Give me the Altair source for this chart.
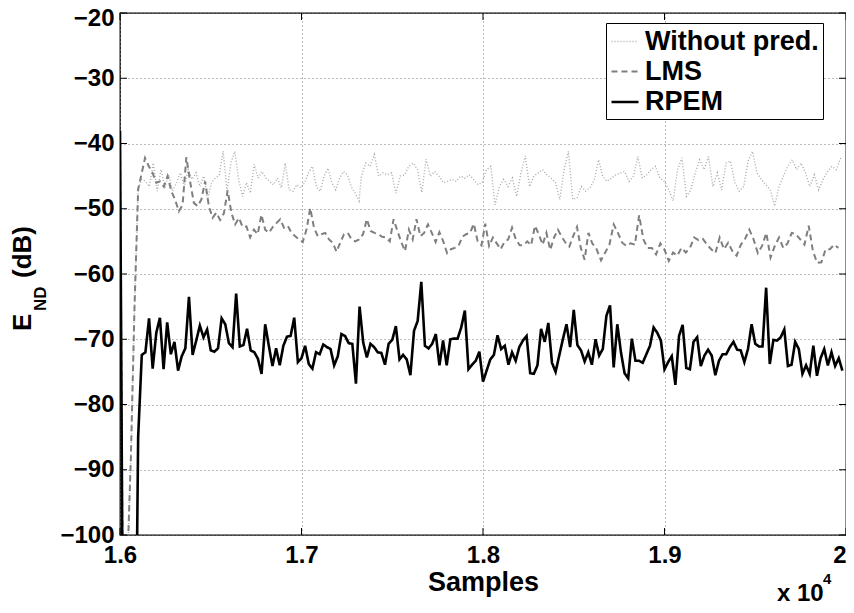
import altair as alt
import numpy as np
import pandas as pd

SERIES = ["Without pred.", "LMS", "RPEM"]
COLORS = ["#aaaaaa", "#7f7f7f", "#000000"]
DASHES = [[1, 2], [6, 4], [1, 0]]
WIDTHS = [1.4, 2.6, 2.4]

X_TICKS = [16000, 17000, 18000, 19000, 20000]
Y_TICKS = [-100, -90, -80, -70, -60, -50, -40, -30, -20]

# ---------- RPEM: one value every 20 samples, starting at 16000 ----------
rpem_start, rpem_step = 16000, 20
rpem_db = [
    -38, -140, -140, -140, -140, -85,
    -72.4, -72.0, -66.8, -74.5, -69.0, -66.7, -74.6, -67.4, -72.3, -70.4,
    -74.8, -72.6, -71.4, -63.5, -72.4, -70.2, -67.9, -69.7, -68.5, -71.7,
    -71.9, -71.4, -66.8, -67.7, -70.6, -71.2, -63.0, -71.1, -70.9, -68.4,
    -71.7, -72.0, -73.0, -75.3, -67.7, -71.0, -74.1, -71.4, -74.0, -71.0,
    -69.6, -69.5, -66.7, -73.5, -72.9, -71.0, -73.8, -74.5, -72.0, -72.3,
    -70.8, -71.2, -71.5, -74.0, -72.6, -69.2, -69.5, -70.6, -70.7, -76.8, -65.0,
    -70.5, -72.8, -70.7, -71.2, -72.0, -72.1, -73.9, -70.7, -70.1, -68.0,
    -73.1, -72.4, -73.1, -75.5, -68.7, -67.2, -61.2, -71.0, -71.4, -70.7,
    -69.2, -74.0, -70.2, -74.0, -70.0, -69.9, -69.9, -68.2, -65.6, -74.6,
    -73.9, -73.3, -71.9, -76.5, -74.8, -73.1, -72.4, -69.4, -71.5, -71.0,
    -73.9, -72.0, -73.3, -71.2, -70.2, -69.5, -75.2, -75.3, -74.0, -68.4,
    -70.4, -67.5, -73.6, -75.0, -72.5, -70.0, -67.7, -71.2, -65.5, -70.9,
    -71.7, -73.4, -72.0, -73.9, -70.0, -72.5,
    -71.5, -66.4, -64.8, -74.3, -67.7, -72.0, -75.2, -76.0, -69.9, -73.3,
    -73.3, -73.6, -72.3, -71.0, -68.2, -69.0, -70.2, -74.6, -73.5, -72.6,
    -77.0, -69.5, -67.8, -74.4, -74.6, -70.4, -69.7, -74.1, -72.5, -71.6,
    -72.5, -75.5, -73.3, -72.3, -72.3, -71.2, -70.4, -71.6, -71.7, -73.5,
    -71.5, -67.7, -70.7, -71.1, -71.1, -62.1, -73.8, -70.1, -70.2, -69.7,
    -68.5, -74.1, -73.9, -70.4, -71.5, -75.3, -74.0, -75.3, -71.0, -75.6,
    -72.9, -71.5, -74.0, -72.0, -74.1, -72.9, -74.8,
]

# ---------- LMS ----------
lms_head_db = [-38, -130, -105, -88, -65, -47, -44.5]   # 16000..16120, step 20
lms_seg1_range = (16138, 17317)
lms_seg1_db = [
    -42.2, -43.5, -44.5, -46.0, -45.8, -46.6, -45.0, -47.3, -48.6, -50.4,
    -49.4, -42.1, -45.8, -49.1, -49.6, -48.6, -45.8, -49.6, -51.4, -50.6,
    -51.7, -50.7, -47.2, -50.6, -52.4, -51.4, -52.8, -52.7, -54.4, -53.2,
    -53.9, -50.9, -53.2, -53.7, -52.8, -52.2, -51.6, -52.9, -52.6, -53.7,
    -54.2, -54.7, -55.1, -53.2, -49.9, -52.9, -54.2, -53.9, -53.7, -54.7,
    -55.2, -56.6, -55.2, -53.9, -53.7, -54.7, -55.0, -54.7,
]
lms_seg2_range = (17339, 18623)
lms_seg2_db = [
    -53.9, -51.6, -53.4, -53.7, -53.9, -54.3, -54.4, -55.0, -51.6, -53.4,
    -55.1, -56.5, -53.2, -54.7, -51.6, -54.2, -53.7, -52.4, -53.7, -55.1,
    -53.6, -55.0, -56.8, -56.2, -56.0, -55.7, -54.3, -53.9, -53.7, -52.3,
    -55.0, -55.6, -52.3, -55.7, -54.4, -55.3, -56.2, -55.1, -54.7, -52.9,
    -54.7, -55.6, -55.6, -55.0, -55.6, -52.6, -53.9, -55.5, -53.7, -56.3,
    -54.4, -53.2, -54.3, -55.2, -55.8, -54.2, -52.8, -56.0, -57.8, -53.7,
    -55.3, -56.0,
]
lms_seg3_range = (18650, 19958)
lms_seg3_db = [
    -57.9, -56.7, -55.5, -52.4, -53.7, -55.2, -55.7, -55.3, -55.5, -51.0,
    -54.7, -56.0, -56.0, -57.0, -55.3, -56.3, -58.0, -56.7, -57.2, -56.0,
    -56.7, -56.0, -54.4, -54.8, -54.6, -55.5, -56.2, -56.8, -54.4, -56.2,
    -55.2, -56.5, -57.2, -55.5, -54.6, -53.2, -54.7, -56.8, -55.7, -53.7,
    -57.5, -55.7, -54.4, -56.0, -55.3, -53.7, -53.9, -54.7, -55.5, -52.6,
    -56.5, -58.3, -58.2, -56.2, -56.2, -55.5, -56.0,
]

# ---------- Without prediction ----------
wp_head_db = [-38, -130, -105, -88, -65, -47]          # 16000..16100, step 20
wp_seg1_range = (16119, 17317)
wp_seg1_db = [
    -45.5, -45.8, -46.6, -43.0, -47.3, -44.0, -46.6, -44.8, -47.3, -46.0,
    -44.5, -46.6, -44.0, -45.5, -44.5, -46.6, -45.0, -48.6, -46.0, -45.3,
    -44.8, -41.2, -47.3, -43.0, -41.2, -45.5, -48.1, -46.0, -47.6, -43.2,
    -45.3, -44.3, -45.3, -45.8, -46.3, -45.3, -46.8, -43.0, -47.1, -47.3,
    -46.3, -46.8, -46.0, -44.5, -43.5, -46.6, -47.3, -45.0, -43.8, -46.0,
    -47.1, -45.3, -44.3, -44.8, -46.6, -47.6, -48.8,
]
wp_seg2_range = (17330, 18637)
wp_seg2_db = [
    -45.0, -43.0, -43.5, -41.7, -45.0, -44.5, -44.8, -44.5, -47.6, -45.0,
    -44.8, -43.5, -43.0, -44.0, -47.5, -42.4, -45.0, -44.3, -45.0, -46.0,
    -45.8, -45.5, -45.8, -45.0, -45.3, -44.8, -45.5, -46.3, -46.0, -44.0,
    -43.5, -49.4, -46.6, -45.5, -46.6, -45.3, -48.1, -44.5, -41.9, -46.6,
    -45.0, -44.5, -44.0, -44.8, -45.3, -46.0, -48.6, -44.0, -41.2, -48.6,
    -48.3, -46.6, -47.3, -46.8, -45.5, -42.5,
]
wp_seg3_range = (18659, 19971)
wp_seg3_db = [
    -45.0, -45.8, -45.3, -44.8, -44.5, -44.3, -45.8, -45.0, -42.0, -45.3,
    -44.8, -44.0, -43.5, -45.3, -45.8, -47.1, -48.8, -44.0, -42.2, -48.1,
    -47.1, -44.5, -42.5, -44.0, -42.0, -46.6, -44.5, -47.1, -43.0, -42.7,
    -46.0, -47.3, -46.6, -42.7, -41.2, -44.5, -45.5, -46.3, -47.1, -49.6,
    -46.6, -45.0, -43.5, -42.5, -44.0, -43.0, -44.5, -46.6, -44.8, -47.1,
    -45.5, -44.3, -43.5, -44.0, -42.2,
]


def seg(rng, vals):
    return list(np.linspace(rng[0], rng[1], len(vals))), list(vals)


def build(name, head, segs):
    xs = [16000 + 20 * i for i in range(len(head))]
    ys = list(head)
    for rng, vals in segs:
        sx, sy = seg(rng, vals)
        xs += sx
        ys += sy
    return pd.DataFrame({"sample": xs, "value": ys, "series": name})


rpem_df = pd.DataFrame({
    "sample": [rpem_start + rpem_step * i for i in range(len(rpem_db))],
    "value": rpem_db,
    "series": "RPEM",
})
lms_df = build("LMS", lms_head_db, [(lms_seg1_range, lms_seg1_db),
                                    (lms_seg2_range, lms_seg2_db),
                                    (lms_seg3_range, lms_seg3_db)])
wp_df = build("Without pred.", wp_head_db, [(wp_seg1_range, wp_seg1_db),
                                            (wp_seg2_range, wp_seg2_db),
                                            (wp_seg3_range, wp_seg3_db)])
data = pd.concat([wp_df, lms_df, rpem_df], ignore_index=True)

W, H = 726, 522
FONT = "Liberation Sans"

xscale = alt.Scale(domain=[16000, 20000], nice=False, zero=False)
yscale = alt.Scale(domain=[-100, -20], nice=False, zero=False)

lines = alt.Chart(data).mark_line(clip=True, strokeCap="butt", strokeJoin="miter").encode(
    x=alt.X("sample:Q", scale=xscale,
            axis=alt.Axis(values=X_TICKS, title="Samples", labelFlush=False,
                          labelAlign={"condition": {"test": "datum.value >= 20000",
                                                    "value": "right"},
                                      "value": "center"},
                          labelExpr="format(datum.value / 10000, '.1~f')")),
    y=alt.Y("value:Q", scale=yscale,
            axis=alt.Axis(values=Y_TICKS, title=None, labelFlush=False,
                          labelOffset={"condition": {"test": "datum.value >= -20",
                                                     "value": 5},
                                       "value": 0})),
    color=alt.Color("series:N", scale=alt.Scale(domain=SERIES, range=COLORS),
                    legend=alt.Legend(title=None)),
    strokeDash=alt.StrokeDash("series:N", scale=alt.Scale(domain=SERIES, range=DASHES),
                              legend=alt.Legend(title=None)),
    strokeWidth=alt.StrokeWidth("series:N", scale=alt.Scale(domain=SERIES, range=WIDTHS),
                                legend=alt.Legend(title=None)),
    order=alt.Order("sample:Q"),
)

xt = pd.DataFrame({"t": X_TICKS})
yt = pd.DataFrame({"t": Y_TICKS})
tick_bottom = alt.Chart(xt).mark_rule(color="black", strokeWidth=1).encode(
    x=alt.X("t:Q", scale=xscale), y=alt.value(H), y2=alt.value(H - 7))
tick_top = alt.Chart(xt).mark_rule(color="black", strokeWidth=1).encode(
    x=alt.X("t:Q", scale=xscale), y=alt.value(0), y2=alt.value(7))
tick_left = alt.Chart(yt).mark_rule(color="black", strokeWidth=1).encode(
    y=alt.Y("t:Q", scale=yscale), x=alt.value(0), x2=alt.value(7))
tick_right = alt.Chart(yt).mark_rule(color="black", strokeWidth=1).encode(
    y=alt.Y("t:Q", scale=yscale), x=alt.value(W), x2=alt.value(W - 7))

txt = dict(font=FONT, fontWeight="bold", color="black")
ytitle_e = alt.Chart(pd.DataFrame({"s": ["E"]})).mark_text(
    angle=270, align="left", baseline="alphabetic", fontSize=26, **txt).encode(
    text="s:N", x=alt.value(-89), y=alt.value(318))
ytitle_nd = alt.Chart(pd.DataFrame({"s": ["ND"]})).mark_text(
    angle=270, align="left", baseline="alphabetic", fontSize=17, **txt).encode(
    text="s:N", x=alt.value(-74), y=alt.value(298))
ytitle_db = alt.Chart(pd.DataFrame({"s": ["(dB)"]})).mark_text(
    angle=270, align="left", baseline="alphabetic", fontSize=26, **txt).encode(
    text="s:N", x=alt.value(-89), y=alt.value(265))

xexp = alt.Chart(pd.DataFrame({"s": ["x 10"]})).mark_text(
    align="left", baseline="alphabetic", fontSize=24, **txt).encode(
    text="s:N", x=alt.value(657), y=alt.value(588))
xexp4 = alt.Chart(pd.DataFrame({"s": ["4"]})).mark_text(
    align="left", baseline="alphabetic", fontSize=15, **txt).encode(
    text="s:N", x=alt.value(703), y=alt.value(571))

chart = alt.layer(
    lines, tick_bottom, tick_top, tick_left, tick_right,
    ytitle_e, ytitle_nd, ytitle_db, xexp, xexp4,
).properties(
    width=W, height=H,
    autosize=alt.AutoSizeParams(type="none"),
    padding={"left": 112, "top": 5, "right": 0, "bottom": 70},
).configure_view(
    stroke="black", strokeWidth=1.3,
).configure_axis(
    domain=False, ticks=False, grid=True,
    gridColor="#7a7a7a", gridDash=[1, 3], gridWidth=1, gridOpacity=1,
    labelFont=FONT, labelFontWeight="bold", labelFontSize=24, labelColor="black",
    titleFont=FONT, titleFontWeight="bold", titleFontSize=27, titleColor="black",
).configure_axisX(
    labelPadding=8, titlePadding=2,
).configure_axisY(
    labelPadding=6,
).configure_legend(
    orient="none", legendX=486, legendY=10,
    strokeColor="black", fillColor="white", padding=4,
    labelFont=FONT, labelFontWeight="bold", labelFontSize=27, labelColor="black",
    labelLimit=0,
    symbolType="stroke", symbolSize=729, symbolStrokeWidth=2.4,
    labelOffset=5, rowPadding=2, cornerRadius=0,
)

chart.save("out.html", embed_options={"renderer": "svg", "actions": False})
